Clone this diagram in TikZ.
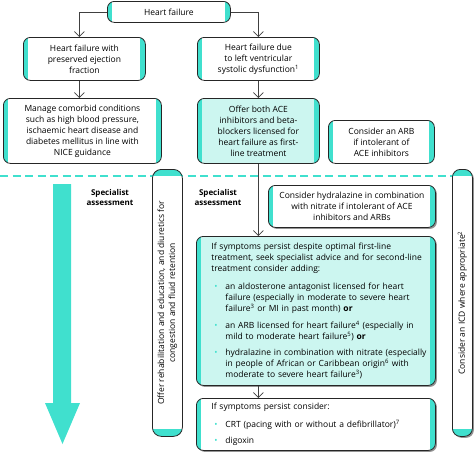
\documentclass[tikz,border=0pt]{standalone}
\usepackage{fontspec}
\setmainfont{Open Sans}
\usetikzlibrary{arrows.meta,shadows}
\definecolor{hfteal}{RGB}{64,224,206}
\definecolor{hflight}{RGB}{204,246,240}
\tikzset{
	hfbox/.style={draw=black!85, line width=0.8pt, rounded corners=7pt, fill=white, align=center,
		inner sep=0pt, anchor=north west, font=\fontsize{8.5}{11}\selectfont,
		path picture={
			\fill[hfteal, sharp corners] (path picture bounding box.north west) rectangle ([xshift=5pt]path picture bounding box.south west);
			\fill[hfteal, sharp corners] (path picture bounding box.north east) rectangle ([xshift=-5pt]path picture bounding box.south east);}},
	hfvbox/.style={draw=black!85, line width=0.8pt, rounded corners=9pt, fill=white,
		inner sep=0pt, anchor=north west, font=\fontsize{8.5}{11}\selectfont,
		path picture={
			\fill[hfteal, sharp corners] (path picture bounding box.north west) rectangle ([yshift=-7pt]path picture bounding box.north east);
			\fill[hfteal, sharp corners] (path picture bounding box.south west) rectangle ([yshift=7pt]path picture bounding box.south east);}},
	hfshadow/.style={drop shadow={shadow xshift=1.5pt, shadow yshift=-1.5pt, fill=black!60, opacity=0.7}},
	hflink/.style={draw=black!75, line width=0.7pt, -{Straight Barb[length=5pt,width=10pt]}},
	hfspec/.style={font=\fontsize{8}{10}\selectfont\bfseries, align=center},
}
\newcommand{\hfbul}{\hspace*{3pt}\makebox[11pt][l]{\textcolor{hfteal}{\textbullet}}}
\newcommand{\hfind}{\hspace*{14pt}}

\begin{document}
\begin{tikzpicture}[x=1pt, y=-1pt]
			%%%%% START %%%%%
			\useasboundingbox (0,0) rectangle (474,455);
			
			% split line and the long arrow
			\draw[hfteal, line width=1.8pt, dash pattern=on 8pt off 4.5pt] (0,176) -- (474,176);
			\fill[hfteal] (53,184) -- (71,184) -- (71,403) -- (80,403) -- (62.5,444) -- (45,403) -- (53,403) -- cycle;
			
			\node[hfbox, minimum width=123pt, minimum height=21pt] (hf) at (107,1) {Heart failure};
			
			\node[hfbox, minimum width=122pt, minimum height=43pt] (pef) at (23,37) {Heart failure with\\preserved ejection\\fraction};
			\node[hfbox, minimum width=122pt, minimum height=43pt] (lvsd) at (197,37) {Heart failure due\\to left ventricular\\systolic dysfunction\textsuperscript{1}};
			
			\node[hfbox, minimum width=158pt, minimum height=65pt] (comorb) at (3,98) {Manage comorbid conditions\\such as high blood pressure,\\ischaemic heart disease and\\diabetes mellitus in line with\\NICE guidance};
			\node[hfbox, fill=hflight, minimum width=122pt, minimum height=65pt] (ace) at (197,98) {Offer both ACE\\inhibitors and beta-\\blockers licensed for\\heart failure as first-\\line treatment};
			\node[hfbox, minimum width=106pt, minimum height=43pt] (arb) at (328,120) {Consider an ARB\\if intolerant of\\ACE inhibitors};
			
			\node[hfspec] (spec1) at (110,197) {Specialist\\assessment};
			\node[hfspec] (spec2) at (218,197) {Specialist\\assessment};
			
			\node[hfvbox, minimum width=30pt, minimum height=267pt] (rehab) at (152,169) {\rotatebox{90}{\begin{tabular}{@{}c@{}}Offer rehabilitation and education, and diuretics for\\congestion and fluid retention\end{tabular}}};
			\node[hfvbox, hfshadow, rounded corners=8pt, minimum width=20pt, minimum height=267pt] (icd) at (452,169) {\rotatebox{90}{Consider an ICD where appropriate\textsuperscript{2}}};
			
			\node[hfbox, hfshadow, minimum width=167pt, minimum height=42pt] (hydra) at (268,185) {Consider hydralazine in combination\\with nitrate if intolerant of ACE\\inhibitors and ARBs};
			
			\node[hfbox, hfshadow, fill=hflight, align=left, text width=209pt, inner xsep=15pt, minimum height=149pt] (second) at (196,236) {\begin{tabular}{@{}l@{}}If symptoms persist despite optimal first-line\\treatment, seek specialist advice and for second-line\\treatment consider adding:\\[7pt]
				\hfbul an aldosterone antagonist licensed for heart\\\hfind failure (especially in moderate to severe heart\\\hfind failure\textsuperscript{3} or MI in past month) \textbf{or}\\[6pt]
				\hfbul an ARB licensed for heart failure\textsuperscript{4} (especially in\\\hfind mild to moderate heart failure\textsuperscript{5}) \textbf{or}\\[5pt]
				\hfbul hydralazine in combination with nitrate (especially\\\hfind in people of African or Caribbean origin\textsuperscript{6} with\\\hfind moderate to severe heart failure\textsuperscript{3})\end{tabular}};
			
			\node[hfbox, hfshadow, align=left, text width=209pt, inner xsep=15pt, minimum height=52pt] (last) at (196,398) {If symptoms persist consider:\\[7pt]
				\hfbul CRT (pacing with or without a defibrillator)\textsuperscript{7}\\[5pt]
				\hfbul digoxin};
			
			% connectors
			\draw[hflink] (hf.west) -| ([xshift=-5pt]pef.north);
			\draw[hflink] (hf.east) -| (lvsd.north);
			\draw[hflink] ([xshift=-5pt]pef.south) -- ([xshift=-5pt]pef.south |- comorb.north);
			\draw[hflink] (lvsd.south) -- (ace.north);
			\draw[hflink] (ace.south) -- (ace.south |- second.north);
			\draw[hflink] (ace.south |- second.south) -- (ace.south |- last.north);
			
			%%%%% END %%%%%
\end{tikzpicture}
\end{document}
